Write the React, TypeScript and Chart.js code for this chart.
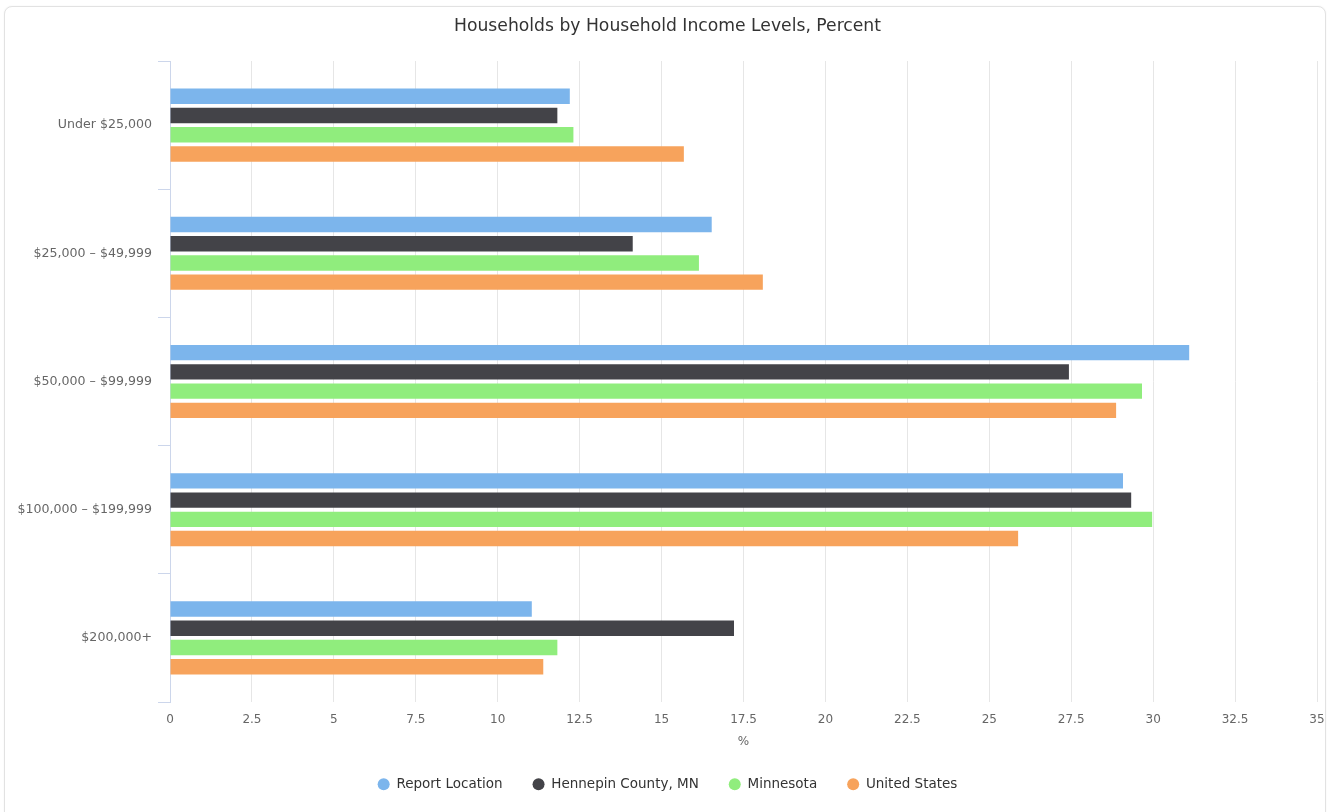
import React, { useEffect, useRef } from "react";
import { Chart, registerables } from "chart.js";

Chart.register(...registerables);

const categories = ["Under $25,000", "$25,000 – $49,999", "$50,000 – $99,999", "$100,000 – $199,999", "$200,000+"];
const seriesNames = ["Report Location", "Hennepin County, MN", "Minnesota", "United States"];
const reportLocation = [12.2, 16.53, 31.1, 29.08, 11.04];
const hennepin = [11.82, 14.12, 27.43, 29.33, 17.21];
const minnesota = [12.31, 16.14, 29.66, 29.97, 11.82];
const unitedStates = [15.68, 18.09, 28.87, 25.88, 11.39];
const seriesColors = ["#7cb5ec", "#434348", "#90ed7d", "#f7a35c"];
const xMin = 0;
const xMax = 35;
const xStep = 2.5;
const titleText = "Households by Household Income Levels, Percent";
const xTitle = "%";

const FONT = "'DejaVu Sans', 'Liberation Sans', sans-serif";

export default function App() {
  const ref = useRef<HTMLCanvasElement | null>(null);
  useEffect(() => {
    if (!ref.current) return;
    const values = [reportLocation, hennepin, minnesota, unitedStates];
    const chart = new Chart(ref.current, {
      type: "bar",
      data: {
        labels: categories,
        datasets: seriesNames.map((name, i) => ({
          label: name,
          data: values[i],
          backgroundColor: seriesColors[i],
          borderWidth: 0,
          categoryPercentage: 0.6,
          barPercentage: 0.8,
        })),
      },
      options: {
        indexAxis: "y",
        responsive: false,
        animation: false,
        layout: { padding: { left: 18, right: 11, top: 0, bottom: 11 } },
        plugins: {
          tooltip: { enabled: false },
          title: {
            display: true,
            text: titleText,
            color: "#333333",
            font: { family: FONT, size: 17.2, weight: "normal" },
            padding: { top: 16, bottom: 24.4 },
          },
          legend: {
            position: "bottom",
            labels: {
              usePointStyle: true,
              pointStyle: "circle",
              pointStyleWidth: 12,
              boxHeight: 8.5,
              padding: 30,
              color: "#333333",
              font: { family: FONT, size: 13.5 },
            },
          },
        },
        scales: {
          x: {
            type: "linear",
            min: xMin,
            max: xMax,
            ticks: {
              stepSize: xStep,
              color: "#666666",
              padding: 11,
              font: { family: FONT, size: 12 },
            },
            grid: { color: "#e6e6e6", drawTicks: false },
            border: { display: false },
            title: {
              display: true,
              text: xTitle,
              color: "#666666",
              font: { family: FONT, size: 12 },
              padding: { top: 0, bottom: -1.5 },
            },
            afterFit: (scale: any) => {
              scale.height = 45.5;
              scale.paddingRight = 8;
              scale.paddingLeft = 8;
            },
          },
          y: {
            type: "category",
            ticks: {
              color: "#666666",
              padding: 6,
              font: { family: FONT, size: 12.6 },
            },
            grid: {
              drawOnChartArea: false,
              drawTicks: true,
              tickLength: 12,
              color: "#ccd6eb",
            },
            border: { display: true, color: "#ccd6eb" },
            afterFit: (scale: any) => {
              scale.width = 152;
            },
          },
        },
      },
    });
    return () => chart.destroy();
  }, []);

  return (
    <div style={{ position: "fixed", left: 0, top: 0, width: 1328, height: 812, background: "#ffffff", overflow: "hidden" }}>
      <div
        style={{
          position: "absolute",
          left: 4,
          top: 6,
          width: 1320,
          height: 830,
          border: "1px solid #e2e2e2",
          borderRadius: 8,
          background: "#ffffff",
          boxShadow: "0 0 2px rgba(0,0,0,0.06)",
        }}
      />
      <canvas ref={ref} width={1328} height={812} style={{ position: "absolute", left: 0, top: 0 }} />
    </div>
  );
}
